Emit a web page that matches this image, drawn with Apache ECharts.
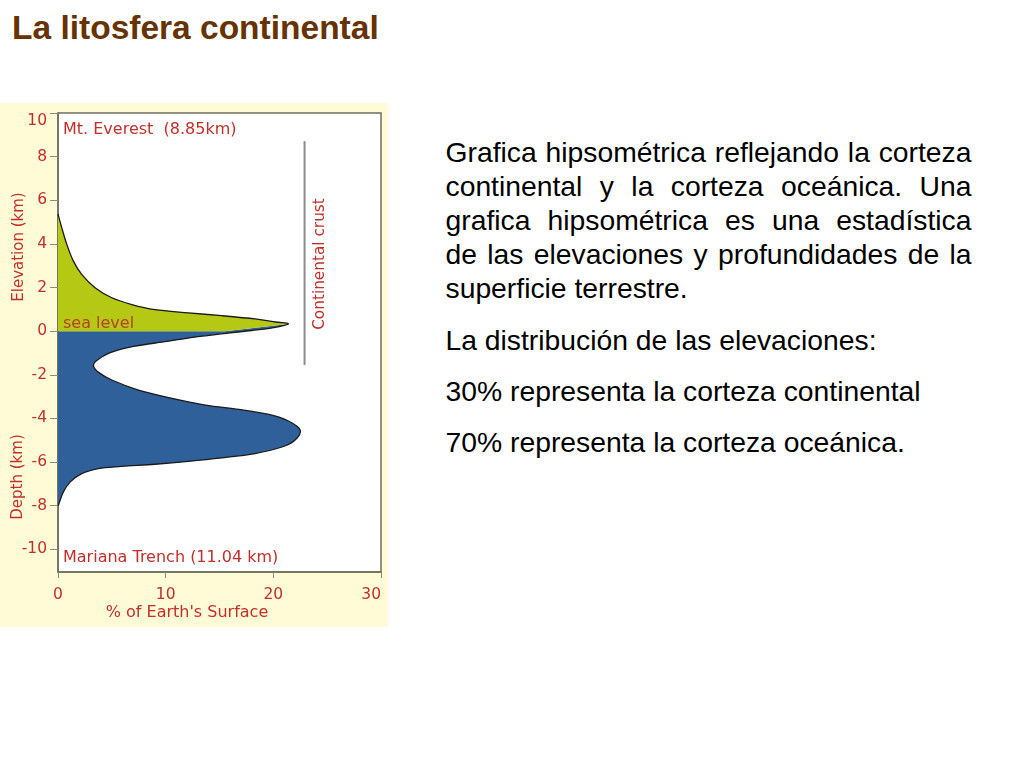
<!DOCTYPE html>
<html>
<head>
<meta charset="utf-8">
<script src="https://cdn.jsdelivr.net/npm/echarts@6/dist/echarts.min.js"></script>
<style>
  body { margin:0; width:1024px; height:768px; background:#fff; position:relative; overflow:hidden; font-family:'Liberation Sans', Arial, sans-serif; }
  #title { position:absolute; left:12px; top:11px; font-weight:bold; font-size:33.5px; line-height:33.5px; color:#663300; white-space:nowrap; }
  #chart { position:absolute; left:0; top:103px; width:388px; height:524px; }
  .p { position:absolute; left:445.5px; width:526px; font-size:28.3px; line-height:34px; color:#000; }
  .j { text-align:justify; text-align-last:justify; }
</style>
</head>
<body>
<div id="title">La litosfera continental</div>
<div id="chart"></div>
<div class="p" style="top:135px">
  <div class="j">Grafica hipsométrica reflejando la corteza</div>
  <div class="j">continental y la corteza oceánica. Una</div>
  <div class="j">grafica hipsométrica es una estadística</div>
  <div class="j">de las elevaciones y profundidades de la</div>
  <div>superficie terrestre.</div>
</div>
<div class="p" style="top:323px">La distribución de las elevaciones:</div>
<div class="p" style="top:374px">30% representa la corteza continental</div>
<div class="p" style="top:425px">70% representa la corteza oceánica.</div>
<script>
// ---- data ----
const xTickValues = [0, 10, 20, 30];
const yTickValues = [-10, -8, -6, -4, -2, 0, 2, 4, 6, 8, 10];
const elevMax = 10;
const elevMin = -11.04;   // Mariana Trench

// continental part of the hypsometric curve, from the top down to the peak
const continentalPct  = [0, 0.34, 0.81, 1.42, 2.2, 3.44, 5.0, 6.86, 9.0, 12.1, 15.2, 18.3, 20.2, 21.4];
const continentalElev = [5.37, 4.76, 3.99, 3.22, 2.6, 1.99, 1.53, 1.22, 0.99, 0.84, 0.71, 0.56, 0.42, 0.33];

// oceanic part, from the continental peak down to the deepest point
const oceanicPct  = [21.4, 19.9, 18.0, 16.5, 13.2, 10.1, 7.0, 4.8, 3.6, 3.3, 3.8, 5.0, 7.47, 10.6, 13.7, 16.8, 19.6, 21.4, 22.5, 22.0, 20.8, 18.3, 15.2, 12.1, 9.0, 5.9, 3.75, 2.2, 1.12, 0.49, 0.09, 0];
const oceanicElev = [0.33, 0.15, 0.03, -0.05, -0.24, -0.47, -0.7, -1.0, -1.35, -1.6, -1.9, -2.24, -2.7, -3.08, -3.39, -3.59, -3.82, -4.12, -4.54, -5.0, -5.31, -5.61, -5.81, -5.97, -6.1, -6.2, -6.3, -6.53, -6.92, -7.38, -7.91, -8.0];

// boundary between green (land) and blue (ocean) fills, from the peak to the axis
const seaPct  = [21.4, 15.5, 0];
const seaElev = [0.33, 0, 0];

// "Continental crust" bracket line
const crustLinePct  = [22.9, 22.9];
const crustLineElev = [8.71, -1.55];

// ---- chart ----
const RED = '#c0302b';
const FONT = 'DejaVu Sans';

function catmullSegments(pts) {
  const segs = [];
  for (let i = 0; i < pts.length - 1; i++) {
    const p0 = pts[Math.max(i - 1, 0)], p1 = pts[i], p2 = pts[i + 1], p3 = pts[Math.min(i + 2, pts.length - 1)];
    segs.push([
      p1[0] + (p2[0] - p0[0]) / 6, p1[1] + (p2[1] - p0[1]) / 6,
      p2[0] - (p3[0] - p1[0]) / 6, p2[1] - (p3[1] - p1[1]) / 6,
      p2[0], p2[1]
    ]);
  }
  return segs;
}
const ptStr = p => p[0].toFixed(2) + ' ' + p[1].toFixed(2);
const segStr = s => 'C' + s.map(v => v.toFixed(2)).join(' ');

function renderHypso(params, api) {
  const outline = continentalPct.map((p, i) => api.coord([p, continentalElev[i]]))
    .concat(oceanicPct.slice(1).map((p, i) => api.coord([p, oceanicElev[i + 1]])));
  const peakIdx = continentalPct.length - 1;
  const segs = catmullSegments(outline);

  let green = 'M' + ptStr(outline[0]);
  for (let i = 0; i < peakIdx; i++) green += segStr(segs[i]);
  for (let i = 1; i < seaPct.length; i++) green += 'L' + ptStr(api.coord([seaPct[i], seaElev[i]]));
  green += 'Z';

  const last = seaPct.length - 1;
  let blue = 'M' + ptStr(api.coord([seaPct[last], seaElev[last]]));
  for (let i = last - 1; i >= 0; i--) blue += 'L' + ptStr(api.coord([seaPct[i], seaElev[i]]));
  for (let i = peakIdx; i < segs.length; i++) blue += segStr(segs[i]);
  blue += 'Z';

  let line = 'M' + ptStr(outline[0]);
  for (let i = 0; i < segs.length; i++) line += segStr(segs[i]);

  return {
    type: 'group',
    children: [
      { type: 'path', shape: { pathData: blue }, style: { fill: '#30609a', stroke: 'none' } },
      { type: 'path', shape: { pathData: green }, style: { fill: '#b4c814', stroke: 'none' } },
      { type: 'path', shape: { pathData: line }, style: { fill: 'none', stroke: '#1a1a1a', lineWidth: 1.3 } }
    ]
  };
}

const chart = echarts.init(document.getElementById('chart'), null, { renderer: 'canvas' });
const lbl = (text, x, y, size, align, rot, color) => ({
  type: 'text', x: x, y: y, z: 100, rotation: rot || 0,
  style: { text: text, fill: color || RED, font: size + 'px "' + FONT + '"', textAlign: align || 'left', textVerticalAlign: 'middle' }
});

chart.setOption({
  backgroundColor: '#fefbd6',
  animation: false,
  grid: { left: 58, right: 7, top: 10, bottom: 55, show: true, backgroundColor: '#ffffff', borderColor: '#6e6e5e', borderWidth: 1.5 },
  xAxis: {
    type: 'value', min: xTickValues[0], max: xTickValues[xTickValues.length - 1], interval: 10,
    axisLine: { show: true, onZero: false, lineStyle: { color: '#6e6e5e', width: 1.5 } },
    axisTick: { show: true, length: 6, lineStyle: { color: '#8a8a7a' } },
    axisLabel: { color: RED, fontFamily: FONT, fontSize: 15.5, margin: 15, alignMaxLabel: 'right' },
    splitLine: { show: false }
  },
  yAxis: {
    type: 'value', min: elevMin, max: elevMax,
    axisLine: { show: true, onZero: false, lineStyle: { color: '#6e6e5e', width: 1.5 } },
    axisTick: { show: true, length: 8, customValues: yTickValues, lineStyle: { color: '#8a8a7a' } },
    axisLabel: { color: RED, fontFamily: FONT, fontSize: 15.5, margin: 11, customValues: yTickValues, verticalAlignMaxLabel: 'top' },
    splitLine: { show: false }
  },
  graphic: [
    lbl('Mt. Everest  (8.85km)', 63, 27, 16),
    lbl('sea level', 63, 221, 16, 'left', 0, '#b8402a'),
    lbl('Mariana Trench (11.04 km)', 63, 455, 16),
    lbl('Elevation (km)', 19, 144, 15, 'center', Math.PI / 2),
    lbl('Depth (km)', 18.5, 374, 15, 'center', Math.PI / 2),
    lbl('Continental crust', 320, 161, 15.3, 'center', Math.PI / 2),
    lbl("% of Earth's Surface", 187, 510, 16, 'center')
  ],
  series: [
    {
      type: 'custom', name: 'Hypsometric curve',
      coordinateSystem: 'cartesian2d',
      data: [[0, 0]], encode: { x: 0, y: 1 },
      renderItem: renderHypso, z: 2, silent: true
    },
    {
      type: 'line', name: 'Continental crust',
      data: crustLinePct.map((p, i) => [p, crustLineElev[i]]),
      symbol: 'none', lineStyle: { color: '#8c8c8c', width: 2 }, z: 3, silent: true
    }
  ]
});
</script>
</body>
</html>
